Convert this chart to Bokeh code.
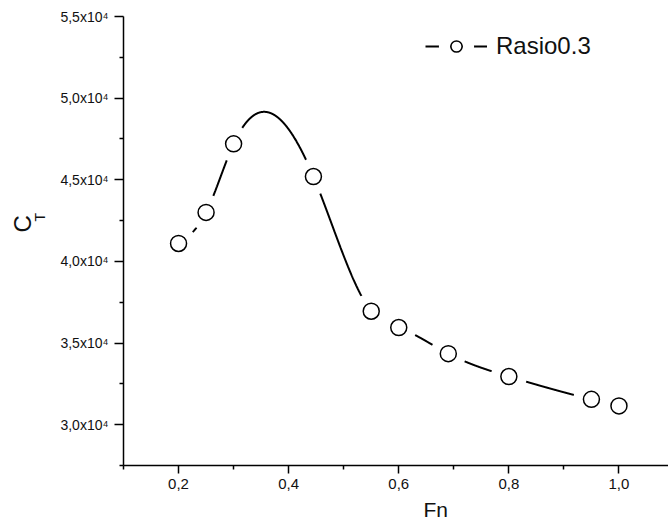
import numpy as np
from bokeh.plotting import figure
from bokeh.models import (FixedTicker, CustomJSTickFormatter, Title, Legend,
                          LegendItem)
from bokeh.embed import file_html
from bokeh.resources import INLINE

# Total resistance coefficient vs Froude number, ratio 0.3
fn = [0.2, 0.25, 0.3, 0.445, 0.55, 0.6, 0.69, 0.8, 0.95, 1.0]
ct = [41100, 43000, 47200, 45200, 36950, 35950, 34350, 32950, 31550, 31150]
series_name = "Rasio0.3"

x_major = [0.2, 0.4, 0.6, 0.8, 1.0]
x_minor = [0.1, 0.3, 0.5, 0.7, 0.9, 1.1]
y_major = [30000, 35000, 40000, 45000, 50000, 55000]
y_minor = [27500, 32500, 37500, 42500, 47500, 52500]

W, H = 668, 525
BL, BR, BT, BB = 123, 0, 16, 59
X0, X1 = 0.1, 1.09
Y0, Y1 = 27500, 55000

FONT = "'Liberation Sans', Arial"
INK = "#111111"

p = figure(width=W, height=H, x_range=(X0, X1), y_range=(Y0, Y1),
           output_backend="svg", toolbar_location=None,
           min_border_left=BL, min_border_right=BR,
           min_border_top=BT, min_border_bottom=BB)
p.outline_line_color = None
p.xgrid.visible = False
p.ygrid.visible = False
p.background_fill_color = "white"
p.border_fill_color = "white"

for ax in (p.xaxis[0], p.yaxis[0]):
    ax.axis_line_width = 1.5
    ax.axis_line_color = "black"
    ax.major_tick_line_width = 1.5
    ax.minor_tick_line_width = 1.5
    ax.major_tick_line_color = "black"
    ax.minor_tick_line_color = "black"
    ax.major_tick_in = 0
    ax.minor_tick_in = 0
    ax.major_label_text_color = INK
    ax.major_label_text_font = FONT

p.xaxis.ticker = FixedTicker(ticks=x_major, minor_ticks=x_minor)
p.yaxis.ticker = FixedTicker(ticks=y_major, minor_ticks=y_minor)
p.xaxis.formatter = CustomJSTickFormatter(
    code="return tick.toFixed(1).replace('.', ',');")
p.yaxis.formatter = CustomJSTickFormatter(
    code="return (tick/1e4).toFixed(1).replace('.', ',') + 'x10\u2074';")
p.xaxis.major_tick_out = 8
p.xaxis.minor_tick_out = 4
p.yaxis.major_tick_out = 9
p.yaxis.minor_tick_out = 4
p.xaxis.major_label_text_font_size = "15px"
p.yaxis.major_label_text_font_size = "14px"
p.xaxis.major_label_standoff = 5
p.yaxis.major_label_standoff = 6

# frame geometry -> pixel scales
fw = W - BL - BR
fh = H - BT - BB
kx = fw / (X1 - X0)
ky = fh / (Y1 - Y0)


# natural cubic spline through the measured points
def natural_spline(x, y, xs):
    x = np.asarray(x, float)
    y = np.asarray(y, float)
    n = len(x)
    h = np.diff(x)
    A = np.zeros((n, n))
    r = np.zeros(n)
    A[0, 0] = A[-1, -1] = 1.0
    for i in range(1, n - 1):
        A[i, i - 1] = h[i - 1]
        A[i, i] = 2 * (h[i - 1] + h[i])
        A[i, i + 1] = h[i]
        r[i] = 6 * ((y[i + 1] - y[i]) / h[i] - (y[i] - y[i - 1]) / h[i - 1])
    M = np.linalg.solve(A, r)
    idx = np.clip(np.searchsorted(x, xs) - 1, 0, n - 2)
    xa, xb = x[idx], x[idx + 1]
    hh = xb - xa
    return (M[idx] * (xb - xs) ** 3 / (6 * hh)
            + M[idx + 1] * (xs - xa) ** 3 / (6 * hh)
            + (y[idx] / hh - M[idx] * hh / 6) * (xb - xs)
            + (y[idx + 1] / hh - M[idx + 1] * hh / 6) * (xs - xa))


xs = np.linspace(fn[0], fn[-1], 3000)
ys = natural_spline(fn, ct, xs)

# leave a gap in the curve around every symbol
gap_px = 18.0
mask = np.zeros_like(xs, dtype=bool)
for xi, yi in zip(fn, ct):
    d = np.hypot((xs - xi) * kx, (ys - yi) * ky)
    mask |= d < gap_px
ys_gapped = ys.copy()
ys_gapped[mask] = np.nan

curve = p.line(xs, ys_gapped, line_color="black", line_width=2)
# white halo only used by the legend sample (its point is not drawn)
gap = p.scatter(x=[fn[0]], y=[np.nan], marker="circle", size=10,
                fill_color="white", line_color="white", line_width=24)
pts = p.scatter(fn, ct, marker="circle", size=16, fill_color="white",
                line_color="black", line_width=1.5)

legend = Legend(items=[LegendItem(label=series_name,
                                  renderers=[curve, gap, pts])],
                location=(302, 405), padding=0, margin=0, spacing=0,
                glyph_width=62, glyph_height=28, label_height=28,
                label_standoff=9, border_line_color=None,
                background_fill_alpha=0,
                label_text_font=FONT, label_text_font_size="24px",
                label_text_color=INK)
p.add_layout(legend)

# axis titles: "Fn" below, "C" with subscript "T" on the left
p.add_layout(Title(text="Fn", align="left", offset=300,
                   vertical_align="bottom", standoff=9,
                   text_font=FONT, text_font_size="21px",
                   text_font_style="normal", text_color=INK), "below")
p.add_layout(Title(text="T", align="left", offset=244,
                   vertical_align="top", standoff=15,
                   text_font=FONT, text_font_size="14px",
                   text_font_style="normal", text_color=INK), "left")
p.add_layout(Title(text="C", align="left", offset=233,
                   vertical_align="bottom", standoff=-22,
                   text_font=FONT, text_font_size="24px",
                   text_font_style="normal", text_color=INK), "left")

open("out.html", "w").write(file_html(p, INLINE))
